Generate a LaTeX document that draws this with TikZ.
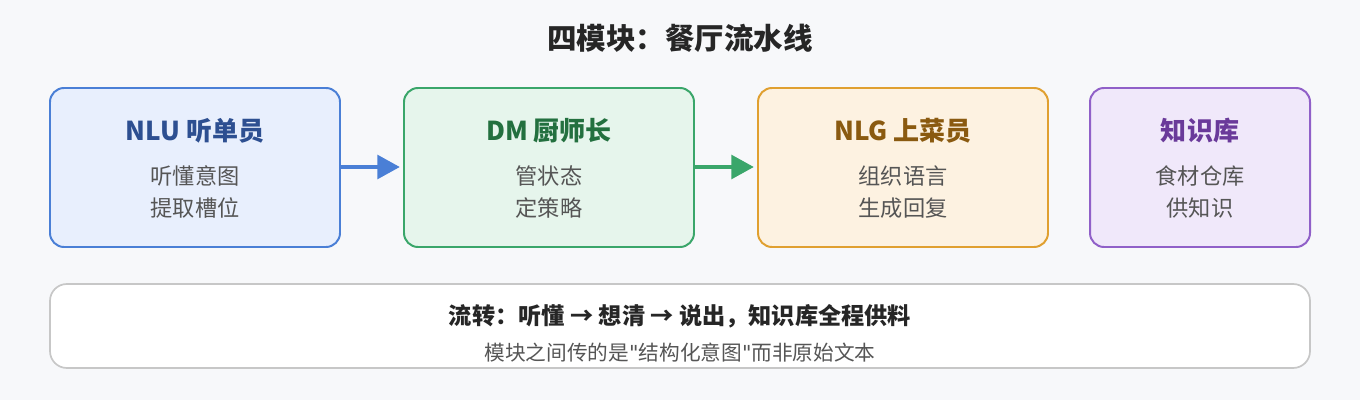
\documentclass[tikz,border=0pt]{standalone}
\usepackage{fontspec}
\setmainfont{Noto Sans CJK SC}
\usetikzlibrary{positioning,arrows.meta}
\definecolor{bg}{HTML}{F7F8FA}
\definecolor{txtgray}{HTML}{555555}
\definecolor{nluf}{HTML}{E8EFFD}\definecolor{nlud}{HTML}{4A7FD6}\definecolor{nlut}{HTML}{2D4F91}
\definecolor{dmf}{HTML}{E6F5EC}\definecolor{dmd}{HTML}{3AA66A}\definecolor{dmt}{HTML}{23703F}
\definecolor{nlgf}{HTML}{FDF2E1}\definecolor{nlgd}{HTML}{E0A030}\definecolor{nlgt}{HTML}{8A5A10}
\definecolor{kbf}{HTML}{F0E8FA}\definecolor{kbd}{HTML}{9060C8}\definecolor{kbt}{HTML}{6A3A9A}
\tikzset{
  box/.style={draw, line width=1.4pt, rounded corners=10pt},
  head/.style={font=\fontsize{18.5}{20}\selectfont\bfseries},
  body/.style={font=\fontsize{15.8}{22.5}\selectfont, text=txtgray, align=center},
  flow/.style={line width=2.4pt, -{Triangle[length=16pt,width=17pt]}, shorten >=3pt}
}
\begin{document}
\begin{tikzpicture}[x=0.025cm,y=-0.025cm]
  \fill[bg] (0,0) rectangle (1360,400);
  \useasboundingbox (0,0) rectangle (1360,400);
  \node[font=\fontsize{21}{23}\selectfont\bfseries, text=black!85] (title) at (680,38) {四模块：餐厅流水线};
  % 四个模块
  \draw[box, draw=nlud, fill=nluf] (50,88) rectangle (340,247);
  \node[head, text=nlut] (nluh) at (195,131) {NLU 听单员};
  \node[body] (nlub) at (195,192) {听懂意图\\提取槽位};
  \draw[box, draw=dmd, fill=dmf] (404,88) rectangle (694,247);
  \node[head, text=dmt] (dmh) at (549,131) {DM 厨师长};
  \node[body] (dmb) at (549,192) {管状态\\定策略};
  \draw[box, draw=nlgd, fill=nlgf] (758,88) rectangle (1048,247);
  \node[head, text=nlgt] (nlgh) at (903,131) {NLG 上菜员};
  \node[body] (nlgb) at (903,192) {组织语言\\生成回复};
  \draw[box, draw=kbd, fill=kbf] (1090,88) rectangle (1310,247);
  \node[head, text=kbt] (kbh) at (1200,131) {知识库};
  \node[body] (kbb) at (1200,192) {食材仓库\\供知识};
  % 箭头
  \coordinate (a1) at (340,167); \coordinate (a2) at (404,167);
  \coordinate (b1) at (694,167); \coordinate (b2) at (758,167);
  \draw[flow, nlud] (a1) -- (a2);
  \draw[flow, dmd] (b1) -- (b2);
  % 说明
  \draw[line width=1.2pt, draw=black!22, fill=white, rounded corners=12pt] (50,284) rectangle (1310,368);
  \node[font=\fontsize{16.5}{18}\selectfont\bfseries, text=black!85] (sum) at (680,316) {流转：听懂 → 想清 → 说出，知识库全程供料};
  \node[font=\fontsize{14.7}{16}\selectfont, text=txtgray] (note) at (680,353) {模块之间传的是{\fontspec{DejaVu Sans}\textquotedbl}结构化意图{\fontspec{DejaVu Sans}\textquotedbl}而非原始文本};
\end{tikzpicture}
\end{document}
